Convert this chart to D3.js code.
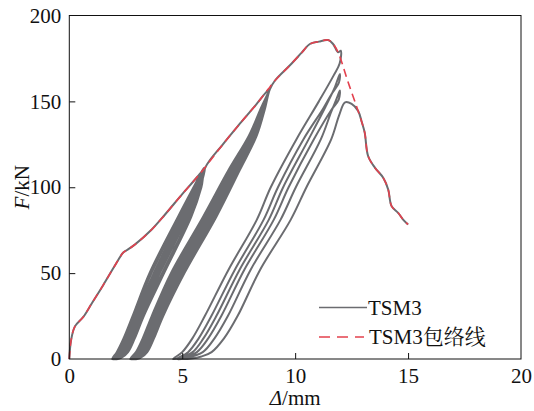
<!DOCTYPE html>
<html>
<head>
<meta charset="utf-8">
<script src="https://cdn.jsdelivr.net/npm/d3@7"></script>
<style>
  body { margin: 0; background: #fff; }
  svg text { font-family: "Liberation Serif", "Noto Serif CJK SC", "Noto Sans CJK SC", serif; fill: #111; }
</style>
</head>
<body>
<div class="chart"></div>
<script>
// axis ticks
const xTicks = [0, 5, 10, 15, 20];
const yTicks = [0, 50, 100, 150, 200];

// envelope curve (red dashed), [displacement mm, force kN]
const envelope = [[0,0],[0.08,11],[0.25,19],[0.62,24.5],[1.0,32.5],[1.5,43],[2.0,54],[2.39,62],[2.54,63.3],[2.9,66.6],
  [3.65,75.4],[4.23,84],[5.0,96],[5.5,103.5],[6.0,111.4],[6.8,125],[7.55,137],[8.29,148.4],[8.8,157],[9.1,162],
  [9.77,171],[10.3,178.5],[10.65,183.4],[11.05,184.8],[11.46,185.7],[11.68,183.4],[11.9,178.6],[12.35,161],
  [12.72,147],[12.9,140],[13.08,131.8],[13.23,118.2],[13.53,111.4],[13.9,105.5],[14.12,98.7],[14.27,89],
  [14.56,85.1],[14.78,81.2],[15.0,78.3]];

// hysteresis curve TSM3, in order
const firstLoad = [[0,0],[0.08,11],[0.25,19],[0.62,24.5],[1.0,32.5],[1.5,43],[2.0,54],[2.39,62],[2.54,63.3],
  [2.9,66.6],[3.65,75.4],[4.23,84],[5.0,96],[5.5,103.5],[6.0,111.4]];

const cycles1 = [
  [5.95,111],[5.50,100],[4.82,83],[3.55,50],[2.80,25],[2.40,12],[2.10,4],[1.90,0],
  [2.13,0.6],[2.39,4],[2.69,12],[3.09,25],[3.92,50],[5.16,83],[5.70,100],[5.99,111],
  [5.96,110.5],[5.55,100],[4.90,83],[3.64,50],[2.87,25],[2.47,12],[2.17,4],[1.96,0],
  [2.18,0.6],[2.46,4],[2.76,12],[3.16,25],[4.01,50],[5.24,83],[5.75,100],[6.00,111],
  [5.97,110.5],[5.60,100],[4.99,83],[3.74,50],[2.95,25],[2.55,12],[2.25,4],[2.02,0],
  [2.24,0.6],[2.53,4],[2.83,12],[3.23,25],[4.11,50],[5.33,83],[5.80,100],[6.01,111],
  [5.98,110.5],[5.65,100],[5.07,83],[3.83,50],[3.02,25],[2.62,12],[2.32,4],[2.07,0],
  [2.30,0.6],[2.60,4],[2.90,12],[3.30,25],[4.20,50],[5.41,83],[5.85,100],[6.02,111.4]];

const secondLoad = [[6.8,125],[7.55,137],[8.29,148.4],[8.84,157]];

const cycles2 = [
  [8.45,145],[7.95,130],[7.05,110],[5.93,83],[4.50,50],[3.65,25],[3.25,12],[2.95,4],[2.70,0],
  [2.96,0.6],[3.24,4],[3.54,12],[3.94,25],[4.84,50],[6.27,83],[7.34,110],[8.15,130],[8.56,145],[8.86,157],
  [8.85,156.5],[8.48,145],[8.00,130],[7.12,110],[6.01,83],[4.58,50],[3.72,25],[3.32,12],[3.02,4],[2.76,0],
  [3.02,0.6],[3.31,4],[3.61,12],[4.01,25],[4.93,50],[6.35,83],[7.41,110],[8.20,130],[8.59,145],[8.87,157],
  [8.85,156.5],[8.51,145],[8.05,130],[7.20,110],[6.10,83],[4.67,50],[3.80,25],[3.40,12],[3.10,4],[2.83,0],
  [3.09,0.6],[3.38,4],[3.68,12],[4.09,25],[5.02,50],[6.44,83],[7.48,110],[8.25,130],[8.62,145],[8.87,157],
  [8.86,156.5],[8.54,145],[8.10,130],[7.27,110],[6.18,83],[4.76,50],[3.87,25],[3.47,12],[3.17,4],[2.89,0],
  [3.15,0.6],[3.45,4],[3.75,12],[4.16,25],[5.10,50],[6.52,83],[7.55,110],[8.30,130],[8.65,145],[8.88,157]];

const thirdLoad = [[9.1,162],[9.77,171],[10.3,178.5],[10.65,183.4],[11.05,184.8],[11.46,185.7],[11.68,183.4],
  [11.9,178.6],[12.02,179.5],[11.97,172]];

const cycles3 = [
  [11.7,165],[11.05,150],[10.06,128],[8.92,100],[8.3,81],[7.05,52],[6.0,25],[5.45,12],[5.0,4],[4.6,0],
  [4.88,0.6],[5.46,4],[5.94,12],[6.51,25],[7.54,52],[8.83,81],[9.47,100],[10.6,128],[11.35,147],[11.75,158],[11.98,166],
  [11.94,161],[11.6,154],[11.25,146],[10.37,128],[9.24,100],[8.6,81],[7.33,52],[6.29,25],[5.73,12],[5.26,4],[4.76,0],
  [5.16,0.6],[5.91,4],[6.43,12],[7.02,25],[8.03,52],[9.35,81],[10.03,100],[11.14,128],[11.6,144],[11.85,152],[11.98,156.3],
  [11.93,151],[11.6,145],[10.83,128],[9.71,100],[9.05,81],[7.75,52],[6.73,25],[6.15,12],[5.65,4],[5.0,0],
  [5.4,0.3],[5.85,1.5],[6.3,4],[6.85,12],[7.45,25],[8.45,52],[9.8,81],[10.5,100],[11.6,128],[11.95,142],
  [12.21,149.4],[12.5,148.5],[12.79,144.4],[12.95,138]];

const softening = [[13.08,131.8],[13.23,118.2],[13.53,111.4],[13.9,105.5],[14.12,98.7],[14.27,89],
  [14.56,85.1],[14.78,81.2],[15.0,78.3]];

const hysteresis = [].concat(firstLoad, cycles1, secondLoad, cycles2, thirdLoad, cycles3, softening);

const W = 534, H = 411;
const margin = { top: 15.5, right: 13, bottom: 52, left: 69.3 };
const width = W - margin.left - margin.right,
  height = H - margin.top - margin.bottom;

const gray = "#6b6c70", red = "#e3414e";
const serif = "'Liberation Serif', 'Noto Serif CJK SC', serif";

const svg = d3.select(".chart").append("svg")
  .attr("width", W)
  .attr("height", H);

const g = svg.append("g")
  .attr("transform", "translate(" + margin.left + "," + margin.top + ")");

const xScale = d3.scaleLinear().domain([0, 20]).range([0, width]);
const yScale = d3.scaleLinear().domain([0, 200]).range([height, 0]);

const line = d3.line()
  .x(d => xScale(d[0]))
  .y(d => yScale(d[1]))
  .curve(d3.curveCatmullRom.alpha(0.5));

g.append("path")
  .datum(hysteresis)
  .attr("fill", "none")
  .attr("stroke", gray)
  .attr("stroke-width", 2)
  .attr("stroke-linejoin", "round")
  .attr("d", line);

g.append("path")
  .datum(envelope)
  .attr("fill", "none")
  .attr("stroke", red)
  .attr("stroke-width", 1.6)
  .attr("stroke-dasharray", "8,5")
  .attr("d", line);

// axes, ticks pointing inward
const xAxis = d3.axisBottom(xScale).tickValues(xTicks).tickSizeInner(-6).tickSizeOuter(0).tickPadding(9);
const yAxis = d3.axisLeft(yScale).tickValues(yTicks).tickSizeInner(-6).tickSizeOuter(0).tickPadding(8);

const gx = g.append("g").attr("transform", `translate(0, ${height})`).call(xAxis);
const gy = g.append("g").call(yAxis);

[gx, gy].forEach(a => {
  a.attr("font-family", serif).attr("font-size", 21);
  a.select(".domain").remove();
  a.selectAll(".tick line").attr("stroke", "#111");
  a.selectAll(".tick text").attr("fill", "#111");
});
gx.selectAll(".tick").filter(d => d === 0 || d === 20).select("line").remove();
gy.selectAll(".tick").filter(d => d === 0 || d === 200).select("line").remove();

g.append("rect")
  .attr("width", width)
  .attr("height", height)
  .attr("fill", "none")
  .attr("stroke", "#111")
  .attr("stroke-width", 1);

// axis titles
const xt = svg.append("text")
  .attr("x", margin.left + xScale(10))
  .attr("y", 405)
  .attr("text-anchor", "middle")
  .attr("font-size", 21);
xt.append("tspan").style("font-style", "italic").text("Δ");
xt.append("tspan").text("/mm");

const yt = svg.append("text")
  .attr("transform", `translate(29, ${margin.top + yScale(100)}) rotate(-90)`)
  .attr("text-anchor", "middle")
  .attr("font-size", 21);
yt.append("tspan").style("font-style", "italic").text("F");
yt.append("tspan").text("/kN");

// legend
const legend = svg.append("g").attr("font-size", 21);
legend.append("line")
  .attr("x1", 319).attr("x2", 367).attr("y1", 307.5).attr("y2", 307.5)
  .attr("stroke", gray).attr("stroke-width", 1.6);
legend.append("text").attr("x", 368).attr("y", 315).text("TSM3");
legend.append("line")
  .attr("x1", 319).attr("x2", 364).attr("y1", 337).attr("y2", 337)
  .attr("stroke", red).attr("stroke-width", 1.6).attr("stroke-dasharray", "11,7");
legend.append("text").attr("x", 369).attr("y", 344).text("TSM3包络线");
</script>
</body>
</html>
